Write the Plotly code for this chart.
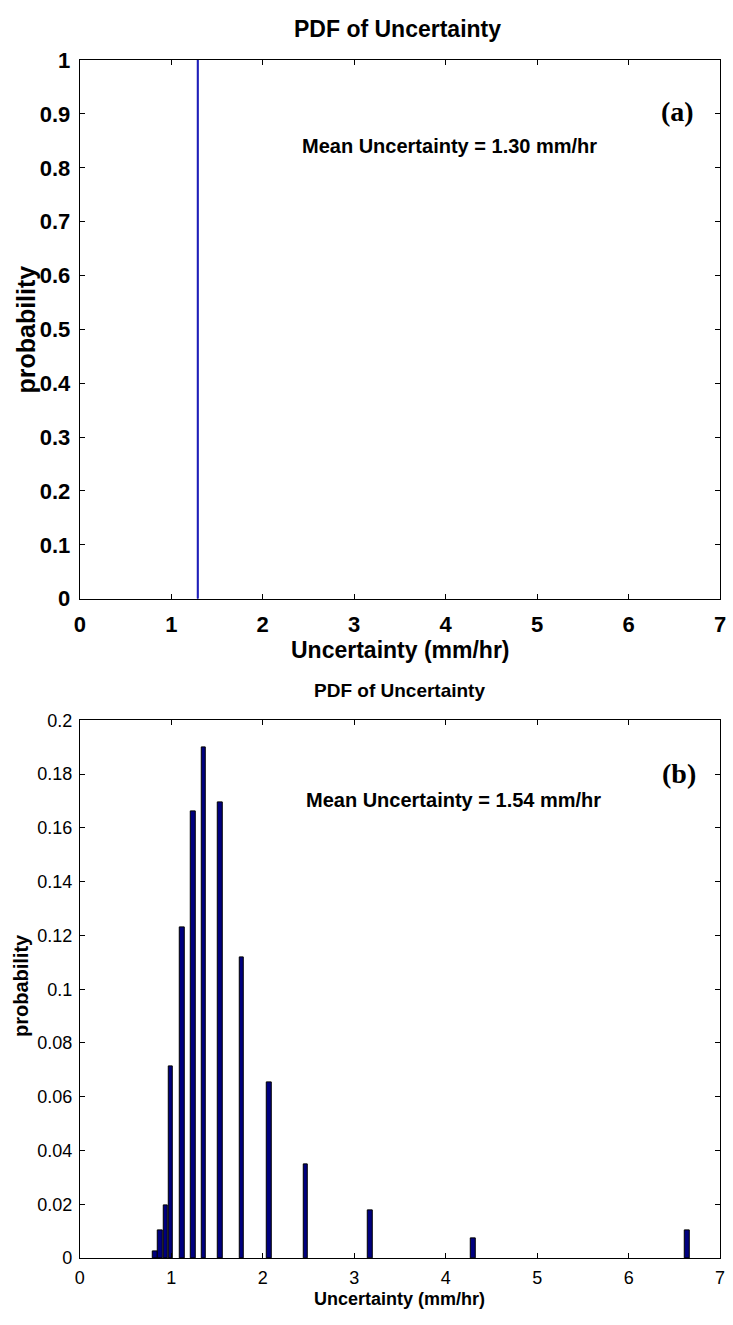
import plotly.graph_objects as go

# ---- data ----
# Panel (a)
a_x = [1.30]
a_prob = [1.0]
a_mean = 1.30
# Panel (b)
b_x = [0.823, 0.881, 0.939, 0.996, 1.119, 1.238, 1.354, 1.534, 1.773, 2.069, 2.469, 3.173, 4.30, 6.64]
b_prob = [0.0023, 0.0104, 0.0195, 0.0713, 0.1231, 0.1662, 0.1900, 0.1695, 0.1117, 0.0653, 0.0348, 0.0176, 0.0074, 0.0103]
b_mean = 1.54
x_ticks = [0, 1, 2, 3, 4, 5, 6, 7]
a_yticks = [round(i * 0.1, 1) for i in range(11)]
b_yticks = [round(i * 0.02, 2) for i in range(11)]

W, H = 733, 1325
FONT = "Liberation Sans, Arial, sans-serif"
SERIF = "Liberation Serif, Times New Roman, serif"

def px(x):
    return x / W

def py(y):
    return 1 - y / H

fig = go.Figure()
fig.add_trace(go.Bar(x=a_x, y=a_prob, width=0.012, marker=dict(color="#1515b5", line=dict(color="#1515b5", width=1)),
                     xaxis="x", yaxis="y", showlegend=False))
fig.add_trace(go.Bar(x=b_x, y=b_prob, width=0.05, marker=dict(color="#00007f", line=dict(color="black", width=1)),
                     xaxis="x2", yaxis="y2", showlegend=False))

common = dict(showline=True, mirror="allticks", ticks="inside", ticklen=5, linecolor="black", linewidth=1,
              tickcolor="black", showgrid=False, zeroline=False)

fig.update_layout(
    width=W, height=H, margin=dict(l=0, r=0, t=0, b=0),
    paper_bgcolor="white", plot_bgcolor="white", bargap=0,
    xaxis=dict(domain=[px(75), px(726)], range=[0, 7], tickvals=x_ticks, anchor="y", ticklabelstandoff=6,
               tickfont=dict(family=FONT, size=22, color="black", weight="bold"), **common),
    yaxis=dict(domain=[py(598), py(49)], range=[0, 1], tickvals=a_yticks, ticktext=[f"{v:g}" for v in a_yticks],
               anchor="x", ticklabelstandoff=4, tickfont=dict(family=FONT, size=22, color="black", weight="bold"), **common),
    xaxis2=dict(domain=[px(75), px(726)], range=[0, 7], tickvals=x_ticks, anchor="y2", ticklabelstandoff=3,
                tickfont=dict(family=FONT, size=18, color="black"), **common),
    yaxis2=dict(domain=[py(1270), py(722)], range=[0, 0.2], tickvals=b_yticks, ticktext=[f"{v:g}" for v in b_yticks],
                anchor="x2", ticklabelstandoff=3, tickfont=dict(family=FONT, size=18, color="black"), **common),
)

ann = [
    dict(text="<b>PDF of Uncertainty</b>", x=px(398), y=py(17), size=23),
    dict(text="<b>Uncertainty (mm/hr)</b>", x=px(401), y=py(650), size=23),
    dict(text="<b>probability</b>", x=px(20), y=py(324), size=25, angle=-90),
    dict(text=f"<b>Mean Uncertainty = {a_mean:.2f} mm/hr</b>", x=px(451), y=py(137), size=20),
    dict(text="<b>(a)</b>", x=px(683), y=py(101), size=28, family=SERIF),
    dict(text="<b>PDF of Uncertainty</b>", x=px(400), y=py(692), size=19),
    dict(text="<b>Uncertainty (mm/hr)</b>", x=px(400), y=py(1312), size=18),
    dict(text="<b>probability</b>", x=px(16), y=py(992), size=20, angle=-90),
    dict(text=f"<b>Mean Uncertainty = {b_mean:.2f} mm/hr</b>", x=px(455), y=py(803), size=20),
    dict(text="<b>(b)</b>", x=px(684), y=py(776), size=28, family=SERIF),
]
for a in ann:
    fig.add_annotation(text=a["text"], x=a["x"], y=a["y"], xref="paper", yref="paper",
                       xanchor="center", yanchor="middle", showarrow=False, textangle=a.get("angle", 0),
                       font=dict(family=a.get("family", FONT), size=a["size"], color="black"))

fig.write_html("out.html", config={"displayModeBar": False},
               post_script="document.body.style.margin='0';document.body.style.overflow='hidden';")
